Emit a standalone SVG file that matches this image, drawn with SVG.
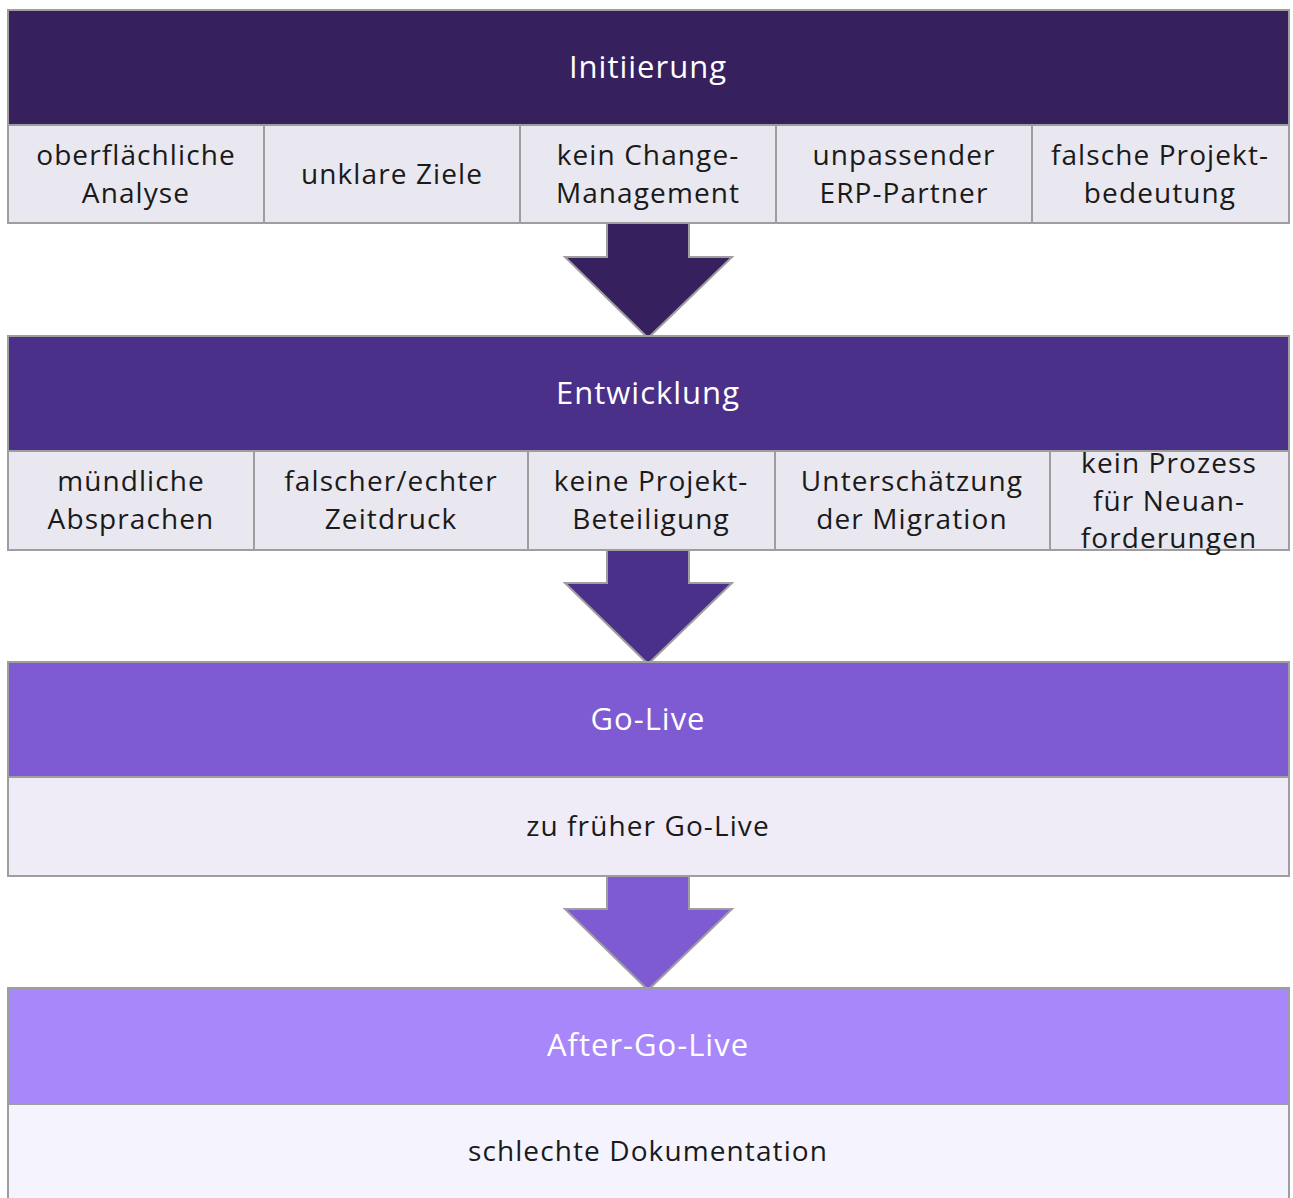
<svg xmlns="http://www.w3.org/2000/svg" width="1293" height="1198" viewBox="0 0 1293 1198">
<style>
.st{stroke:#9e9e9e;stroke-width:2}
.h{font-family:"Open Sans","Liberation Sans",sans-serif;font-size:31px;letter-spacing:1px;fill:#ffffff;text-anchor:middle}
.t{font-family:"Open Sans","Liberation Sans",sans-serif;font-size:28px;letter-spacing:1.1px;fill:#1a1a1a;text-anchor:middle}
.c1{fill:#e9e7ef}
</style>
<rect width="1293" height="1198" fill="#ffffff"/>
<g id="connectors">
<polygon class="st" fill="#37205e" points="607,223 689,223 689,257 732,257 648,338 565,257 607,257"/>
<polygon class="st" fill="#4a3089" points="607,550 689,550 689,583 732,583 648,664 565,583 607,583"/>
<polygon class="st" fill="#7f5bd3" points="607,876 689,876 689,909 732,909 648,990 565,909 607,909"/>
</g>
<g id="initiierung">
<rect class="st" x="8" y="10" width="1281" height="115" fill="#37205e"/>
<text class="h" x="648" y="78">Initiierung</text>
<rect class="st c1" x="8" y="125" width="256" height="98"/>
<rect class="st c1" x="264" y="125" width="256" height="98"/>
<rect class="st c1" x="520" y="125" width="256" height="98"/>
<rect class="st c1" x="776" y="125" width="256" height="98"/>
<rect class="st c1" x="1032" y="125" width="257" height="98"/>
<text class="t" x="136" y="165">oberflächliche</text>
<text class="t" x="136" y="203">Analyse</text>
<text class="t" x="392" y="184">unklare Ziele</text>
<text class="t" x="648" y="165">kein Change-</text>
<text class="t" x="648" y="203">Management</text>
<text class="t" x="904" y="165">unpassender</text>
<text class="t" x="904" y="203">ERP-Partner</text>
<text class="t" x="1160" y="165">falsche Projekt-</text>
<text class="t" x="1160" y="203">bedeutung</text>
</g>
<g id="entwicklung">
<rect class="st" x="8" y="336" width="1281" height="115" fill="#4a3089"/>
<text class="h" x="648" y="404">Entwicklung</text>
<rect class="st c1" x="8" y="451" width="246" height="99"/>
<rect class="st c1" x="254" y="451" width="274" height="99"/>
<rect class="st c1" x="528" y="451" width="247" height="99"/>
<rect class="st c1" x="775" y="451" width="275" height="99"/>
<rect class="st c1" x="1050" y="451" width="239" height="99"/>
<text class="t" x="131" y="491">mündliche</text>
<text class="t" x="131" y="529">Absprachen</text>
<text class="t" x="391" y="491">falscher/echter</text>
<text class="t" x="391" y="529">Zeitdruck</text>
<text class="t" x="651" y="491">keine Projekt-</text>
<text class="t" x="651" y="529">Beteiligung</text>
<text class="t" x="912" y="491">Unterschätzung</text>
<text class="t" x="912" y="529">der Migration</text>
<text class="t" x="1169" y="473">kein Prozess</text>
<text class="t" x="1169" y="511">für Neuan-</text>
<text class="t" x="1169" y="548">forderungen</text>
</g>
<g id="golive">
<rect class="st" x="8" y="662" width="1281" height="115" fill="#7f5bd3"/>
<text class="h" x="648" y="730">Go-Live</text>
<rect class="st" x="8" y="777" width="1281" height="99" fill="#efecf7"/>
<text class="t" x="648" y="836">zu früher Go-Live</text>
</g>
<g id="aftergolive">
<rect class="st" x="8" y="988" width="1281" height="116" fill="#a887fb"/>
<text class="h" x="648" y="1056">After-Go-Live</text>
<rect class="st" x="8" y="1104" width="1281" height="100" fill="#f5f3fe"/>
<text class="t" x="648" y="1161">schlechte Dokumentation</text>
</g>
</svg>
